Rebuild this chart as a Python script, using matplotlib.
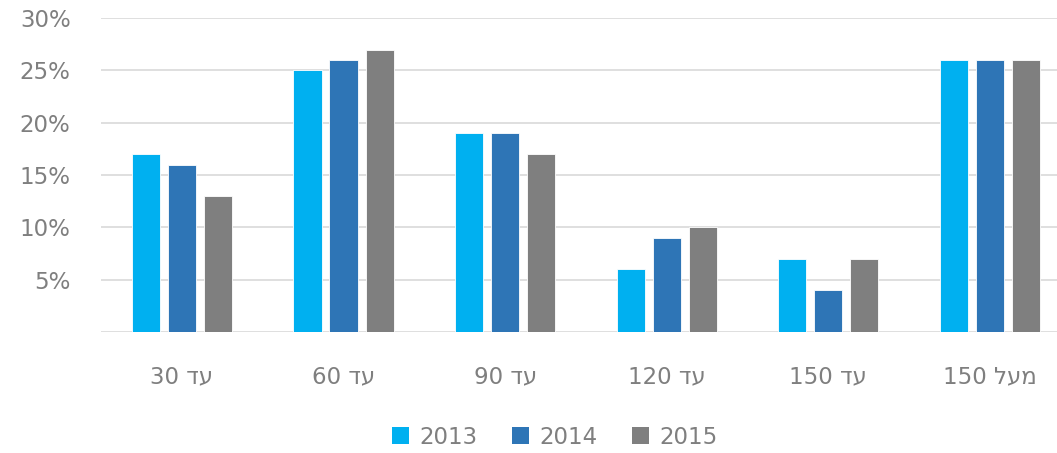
import numpy as np
import matplotlib.pyplot as plt
from matplotlib.patches import Patch

# categories (hebrew written in visual order, matplotlib has no bidi)
categories = ["30 דע", "60 דע", "90 דע", "120 דע", "150 דע", "150 לעמ"]
years = ["2013", "2014", "2015"]
vals_2013 = [17, 25, 19, 6, 7, 26]
vals_2014 = [16, 26, 19, 9, 4, 26]
vals_2015 = [13, 27, 17, 10, 7, 26]
colors = ["#00B0F0", "#2E75B6", "#7F7F7F"]
text_color = "#7F7F7F"

plt.rcParams['font.family'] = ['DejaVu Sans']

fig = plt.figure(figsize=(10.57, 4.53), dpi=100)
# axes runs a bit past the right edge, like the original
ax = fig.add_axes([0.0957, 0.267, 0.9173, 0.693])

x = np.arange(len(categories))
width = 0.174
step = 0.223
for i, (vals, c) in enumerate(zip([vals_2013, vals_2014, vals_2015], colors)):
    ax.bar(x + (i - 1) * step, vals, width, color=c, zorder=3,
           edgecolor="white", linewidth=0.6)

ax.set_xlim(-0.5, len(categories) - 0.5)
ax.set_ylim(0, 30)
yt = [0, 5, 10, 15, 20, 25, 30]
ax.set_yticks(yt)
ax.set_yticklabels(["" if v == 0 else f"{v}%" for v in yt])
ax.set_xticks(x)
ax.set_xticklabels(categories)
ax.yaxis.grid(True, color="#D9D9D9", linewidth=1.2, zorder=0)
ax.set_axisbelow(True)
for s in ax.spines.values():
    s.set_visible(False)
ax.tick_params(axis="y", length=0, pad=22, labelsize=16.5, labelcolor=text_color)
ax.tick_params(axis="x", length=0, pad=24, labelsize=16.5, labelcolor=text_color)

handles = [Patch(facecolor=c, label=y) for c, y in zip(colors, years)]
leg = fig.legend(handles=handles, loc="center", bbox_to_anchor=(0.525, 0.035), ncol=3,
                 frameon=False, fontsize=16.5, handlelength=0.75, handleheight=0.75,
                 handletextpad=0.45, columnspacing=1.5)
for t in leg.get_texts():
    t.set_color(text_color)

fig.savefig("out.png", dpi=100)
